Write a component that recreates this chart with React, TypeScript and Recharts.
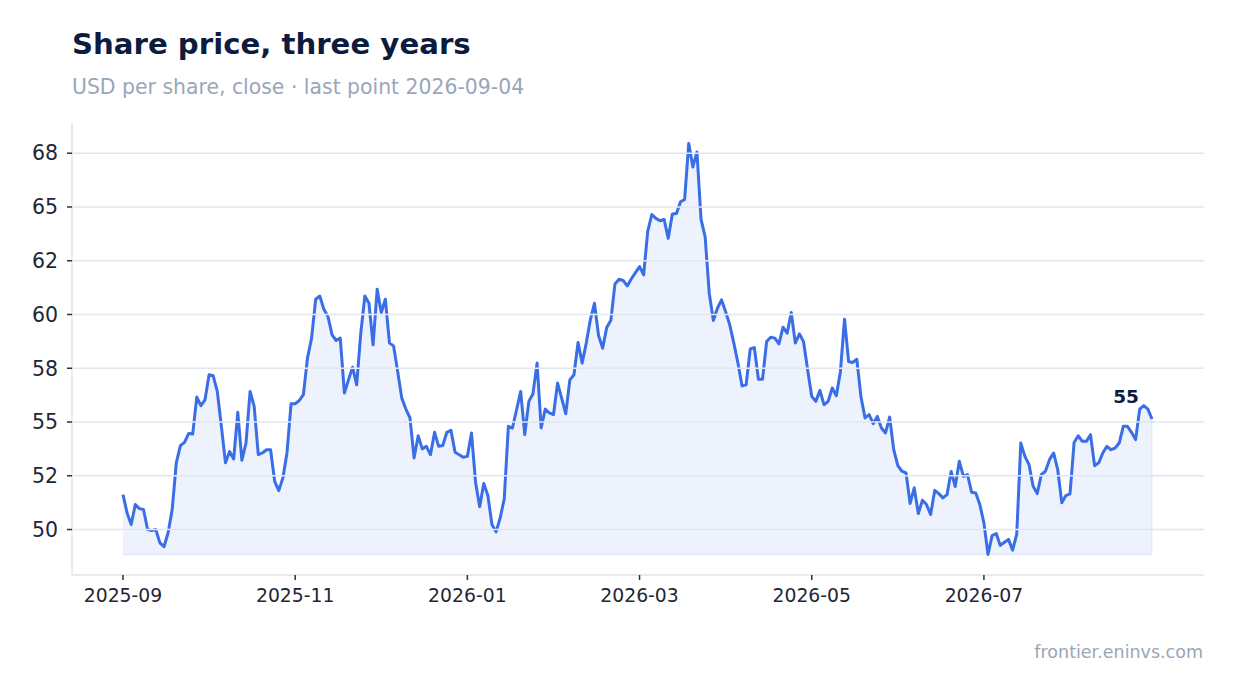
import React from "react";
import { AreaChart, Area, XAxis, YAxis, ReferenceLine, LabelList } from "recharts";

const dates: string[] = [
  "2025-09-05","2025-09-08","2025-09-09","2025-09-10","2025-09-11","2025-09-12","2025-09-15","2025-09-16","2025-09-17","2025-09-18","2025-09-19","2025-09-22","2025-09-23","2025-09-24","2025-09-25","2025-09-26","2025-09-29","2025-09-30",
  "2025-10-01","2025-10-02","2025-10-03","2025-10-06","2025-10-07","2025-10-08","2025-10-09","2025-10-10","2025-10-13","2025-10-14","2025-10-15","2025-10-16","2025-10-17","2025-10-20","2025-10-21","2025-10-22","2025-10-23","2025-10-24","2025-10-27","2025-10-28","2025-10-29","2025-10-30","2025-10-31",
  "2025-11-03","2025-11-04","2025-11-05","2025-11-06","2025-11-07","2025-11-10","2025-11-11","2025-11-12","2025-11-13","2025-11-14","2025-11-17","2025-11-18","2025-11-19","2025-11-20","2025-11-21","2025-11-24","2025-11-25","2025-11-26","2025-11-28",
  "2025-12-01","2025-12-02","2025-12-03","2025-12-04","2025-12-05","2025-12-08","2025-12-09","2025-12-10","2025-12-11","2025-12-12","2025-12-15","2025-12-16","2025-12-17","2025-12-18","2025-12-19","2025-12-22","2025-12-23","2025-12-24","2025-12-26","2025-12-29","2025-12-30","2025-12-31",
  "2026-01-02","2026-01-05","2026-01-06","2026-01-07","2026-01-08","2026-01-09","2026-01-12","2026-01-13","2026-01-14","2026-01-15","2026-01-16","2026-01-20","2026-01-21","2026-01-22","2026-01-23","2026-01-26","2026-01-27","2026-01-28","2026-01-29","2026-01-30",
  "2026-02-02","2026-02-03","2026-02-04","2026-02-05","2026-02-06","2026-02-09","2026-02-10","2026-02-11","2026-02-12","2026-02-13","2026-02-17","2026-02-18","2026-02-19","2026-02-20","2026-02-23","2026-02-24","2026-02-25","2026-02-26","2026-02-27",
  "2026-03-02","2026-03-03","2026-03-04","2026-03-05","2026-03-06","2026-03-09","2026-03-10","2026-03-11","2026-03-12","2026-03-13","2026-03-16","2026-03-17","2026-03-18","2026-03-19","2026-03-20","2026-03-23","2026-03-24","2026-03-25","2026-03-26","2026-03-27","2026-03-30","2026-03-31",
  "2026-04-01","2026-04-02","2026-04-06","2026-04-07","2026-04-08","2026-04-09","2026-04-10","2026-04-13","2026-04-14","2026-04-15","2026-04-16","2026-04-17","2026-04-20","2026-04-21","2026-04-22","2026-04-23","2026-04-24","2026-04-27","2026-04-28","2026-04-29","2026-04-30",
  "2026-05-01","2026-05-04","2026-05-05","2026-05-06","2026-05-07","2026-05-08","2026-05-11","2026-05-12","2026-05-13","2026-05-14","2026-05-15","2026-05-18","2026-05-19","2026-05-20","2026-05-21","2026-05-22","2026-05-26","2026-05-27","2026-05-28","2026-05-29",
  "2026-06-01","2026-06-02","2026-06-03","2026-06-04","2026-06-05","2026-06-08","2026-06-09","2026-06-10","2026-06-11","2026-06-12","2026-06-15","2026-06-16","2026-06-17","2026-06-18","2026-06-22","2026-06-23","2026-06-24","2026-06-25","2026-06-26","2026-06-29","2026-06-30",
  "2026-07-01","2026-07-02","2026-07-06","2026-07-07","2026-07-08","2026-07-09","2026-07-10","2026-07-13","2026-07-14","2026-07-15","2026-07-16","2026-07-17","2026-07-20","2026-07-21","2026-07-22","2026-07-23","2026-07-24","2026-07-27","2026-07-28","2026-07-29","2026-07-30","2026-07-31",
  "2026-08-03","2026-08-04","2026-08-05","2026-08-06","2026-08-07","2026-08-10","2026-08-11","2026-08-12","2026-08-13","2026-08-14","2026-08-17","2026-08-18","2026-08-19","2026-08-20","2026-08-21","2026-08-24","2026-08-25","2026-08-26","2026-08-27","2026-08-28","2026-08-31",
  "2026-09-01","2026-09-02","2026-09-03","2026-09-04",
];

const closes: number[] = [
  51.62, 50.77, 50.23, 51.16, 50.97, 50.93, 50.0, 49.95, 50.0, 49.38,
  49.2, 49.85, 50.93, 53.1, 53.9, 54.05, 54.46, 54.44, 56.16, 55.76,
  56.03, 57.2, 57.15, 56.42, 54.8, 53.1, 53.63, 53.28, 55.45, 53.22,
  54.02, 56.42, 55.72, 53.48, 53.56, 53.71, 53.71, 52.24, 51.81, 52.4,
  53.56, 55.85, 55.85, 56.0, 56.27, 57.97, 58.9, 60.71, 60.86, 60.24,
  59.9, 59.05, 58.79, 58.9, 56.35, 56.96, 57.55, 56.73, 59.13, 60.86,
  60.52, 58.59, 61.17, 60.09, 60.71, 58.67, 58.54, 57.35, 56.11, 55.6,
  55.19, 53.33, 54.36, 53.75, 53.87, 53.48, 54.52, 53.87, 53.91, 54.52,
  54.61, 53.59, 53.48, 53.36, 53.4, 54.49, 52.2, 51.06, 52.14, 51.58,
  50.23, 49.89, 50.54, 51.43, 54.8, 54.72, 55.57, 56.42, 54.41, 55.96,
  56.31, 57.74, 54.72, 55.6, 55.42, 55.34, 56.81, 56.11, 55.38, 56.96,
  57.2, 58.7, 57.74, 58.67, 59.75, 60.52, 59.02, 58.43, 59.4, 59.73,
  61.42, 61.64, 61.58, 61.33, 61.66, 61.95, 62.23, 61.84, 63.88, 64.65,
  64.47, 64.36, 64.42, 63.54, 64.67, 64.7, 65.24, 65.35, 67.95, 66.86,
  67.56, 64.42, 63.61, 60.99, 59.72, 60.29, 60.68, 60.13, 59.52, 58.67,
  57.74, 56.68, 56.73, 58.4, 58.46, 56.99, 56.99, 58.74, 58.94, 58.9,
  58.63, 59.41, 59.13, 60.09, 58.67, 59.1, 58.74, 57.43, 56.19, 55.96,
  56.47, 55.8, 55.96, 56.58, 56.22, 57.35, 59.78, 57.81, 57.77, 57.92,
  56.19, 55.19, 55.34, 54.92, 55.26, 54.72, 54.49, 55.23, 53.71, 52.97,
  52.71, 52.63, 51.21, 51.94, 50.74, 51.36, 51.16, 50.7, 51.82, 51.67,
  51.47, 51.62, 52.7, 52.0, 53.17, 52.47, 52.55, 51.73, 51.7, 51.16,
  50.31, 48.84, 49.72, 49.81, 49.26, 49.41, 49.54, 49.04, 49.77, 54.02,
  53.4, 53.02, 52.01, 51.67, 52.55, 52.71, 53.25, 53.56, 52.79, 51.24,
  51.58, 51.66, 54.05, 54.36, 54.1, 54.1, 54.41, 52.97, 53.1, 53.56,
  53.87, 53.71, 53.79, 54.02, 54.8, 54.8, 54.52, 54.18, 55.6, 55.76,
  55.6, 55.14,
];

const xTickDates: string[] = ["2025-09-05", "2025-11-04", "2026-01-06", "2026-03-09", "2026-05-07", "2026-07-09"];
const xTickLabels: string[] = ["2025-09", "2025-11", "2026-01", "2026-03", "2026-05", "2026-07"];
const yTicks: number[] = [50, 52.5, 55, 57.5, 60, 62.5, 65, 67.5];
const yTickLabels: string[] = ["50", "52", "55", "58", "60", "62", "65", "68"];

const TITLE = "Share price, three years";
const SUBTITLE = "USD per share, close · last point 2026-09-04";
const FOOTER = "frontier.eninvs.com";

const data = dates.map((d, i) => ({ date: d, close: closes[i] }));
const minClose = Math.min(...closes);
const maxClose = Math.max(...closes);
const span = maxClose - minClose;
const yDomain: [number, number] = [minClose - span * 0.05, maxClose + span * 0.05];
const firstDate = dates[0];
const lastDate = dates[dates.length - 1];
const lastClose = closes[closes.length - 1];

const FONT = "'DejaVu Sans', sans-serif";
const LINE = "#3a6ee6";
const AXIS = "#dfe3ec";
const GRID = "#e2e6ef";
const TICK_TEXT = "#1f2636";
const NAVY = "#0d1b3e";
const MUTED = "#9aa6b9";

const LastLabel = (props: any) => {
  const { x, y, index, value } = props;
  if (index !== closes.length - 1) return null;
  return (
    <text x={x - 13} y={y - 16} textAnchor="end" fontFamily={FONT} fontWeight="bold" fontSize={18.5} fill={NAVY}>
      {Math.round(value)}
    </text>
  );
};

export default function App() {
  return (
    <div style={{ position: "absolute", left: 0, top: 0, width: 1234, height: 693, background: "#fff", fontFamily: FONT }}>
      <AreaChart width={1234} height={693} data={data} margin={{ top: 123, right: 30, bottom: 78, left: 12 }}>
        <XAxis
          dataKey="date"
          type="category"
          ticks={xTickDates}
          interval={0}
          tickFormatter={(v: string) => xTickLabels[xTickDates.indexOf(v)]}
          padding={{ left: 51, right: 52 }}
          height={40}
          axisLine={{ stroke: AXIS, strokeWidth: 1.5 }}
          tickLine={{ stroke: "#2b2f3a", strokeWidth: 1.5 }}
          tickSize={5}
          tickMargin={9}
          tick={{ fill: TICK_TEXT, fontSize: 18.8, fontFamily: FONT }}
        />
        <YAxis
          type="number"
          domain={yDomain}
          ticks={yTicks}
          allowDataOverflow
          tickFormatter={(v: number) => yTickLabels[yTicks.indexOf(v)]}
          width={60}
          axisLine={{ stroke: AXIS, strokeWidth: 1.5 }}
          tickLine={{ stroke: "#2b2f3a", strokeWidth: 1.5 }}
          tickSize={5}
          tickMargin={9}
          tick={{ fill: TICK_TEXT, fontSize: 20.5, fontFamily: FONT }}
        />
        {yTicks.map((t) => (
          <ReferenceLine key={t} y={t} stroke={GRID} strokeWidth={1.5} />
        ))}
        <Area
          type="linear"
          dataKey="close"
          stroke={LINE}
          strokeWidth={3}
          strokeLinejoin="round"
          fill={LINE}
          fillOpacity={0.09}
          baseValue={minClose}
          dot={false}
          activeDot={false}
          isAnimationActive={false}
        >
          <LabelList dataKey="close" content={LastLabel} />
        </Area>
        <ReferenceLine
          segment={[{ x: firstDate, y: minClose }, { x: lastDate, y: minClose }]}
          stroke={LINE}
          strokeOpacity={0.1}
          strokeWidth={1.5}
        />
        <ReferenceLine
          segment={[{ x: lastDate, y: minClose }, { x: lastDate, y: lastClose }]}
          stroke={LINE}
          strokeOpacity={0.1}
          strokeWidth={1.5}
        />
      </AreaChart>
      <svg width={1234} height={693} style={{ position: "absolute", left: 0, top: 0, pointerEvents: "none" }}>
        <text x={72} y={54} fontFamily={FONT} fontWeight="bold" fontSize={29.2} fill={NAVY}>{TITLE}</text>
        <text x={72} y={94} fontFamily={FONT} fontSize={20.4} fill={MUTED}>{SUBTITLE}</text>
        <text x={1203} y={658} textAnchor="end" fontFamily={FONT} fontSize={17.5} fill={MUTED}>{FOOTER}</text>
      </svg>
    </div>
  );
}
